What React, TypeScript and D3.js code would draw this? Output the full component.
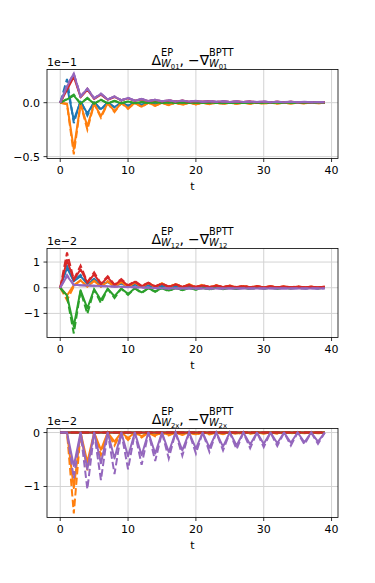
import React, { useEffect, useRef } from "react";
import * as d3 from "d3";

// time steps t = 0..39
const steps = d3.range(40);

const colors = ["#1f77b4", "#ff7f0e", "#2ca02c", "#d62728", "#9467bd"];

// panel 1 : W01, values in units of 1e-1
const blueEP1 = [0, 0.15, -0.16, 0.01, -0.1, 0.005, -0.06, 0.003, -0.04, 0.002, -0.027, 0.001, -0.019, 0.001, -0.014, 0, -0.011, 0, -0.009, 0, -0.007, 0, -0.006, 0, -0.005, 0, -0.004, 0, -0.004, 0, -0.003, 0, -0.003, 0, -0.003, 0, -0.002, 0, -0.002, 0];
const blueBP1 = [0, 0.22, -0.19, 0.02, -0.12, 0.008, -0.07, 0.004, -0.045, 0.002, -0.03, 0.001, -0.021, 0.001, -0.015, 0, -0.012, 0, -0.009, 0, -0.008, 0, -0.006, 0, -0.005, 0, -0.005, 0, -0.004, 0, -0.004, 0, -0.003, 0, -0.003, 0, -0.003, 0, -0.002, 0];
const orangeEP1 = [0, -0.01, -0.43, -0.01, -0.22, -0.008, -0.125, -0.005, -0.078, -0.003, -0.052, -0.002, -0.037, -0.001, -0.028, -0.001, -0.022, 0, -0.018, 0, -0.015, 0, -0.013, 0, -0.011, 0, -0.01, 0, -0.009, 0, -0.008, 0, -0.007, 0, -0.007, 0, -0.006, 0, -0.006, 0];
const orangeBP1 = [0, -0.015, -0.48, -0.015, -0.25, -0.01, -0.14, -0.006, -0.088, -0.004, -0.058, -0.002, -0.041, -0.001, -0.031, -0.001, -0.024, 0, -0.02, 0, -0.016, 0, -0.014, 0, -0.012, 0, -0.011, 0, -0.01, 0, -0.009, 0, -0.008, 0, -0.007, 0, -0.007, 0, -0.006, 0];
const greenEP1 = [0, 0.03, 0.065, -0.008, 0.04, -0.008, 0.025, -0.006, 0.016, -0.005, 0.01, -0.004, 0.007, -0.004, 0.005, -0.003, 0.003, -0.003, 0.002, -0.003, 0.001, -0.002, 0.001, -0.002, 0, -0.002, 0, -0.002, 0, -0.002, 0, -0.001, 0, -0.001, 0, -0.001, 0, -0.001, 0, -0.001];
const greenBP1 = [0, 0.035, 0.075, -0.01, 0.045, -0.01, 0.028, -0.007, 0.018, -0.006, 0.012, -0.005, 0.008, -0.004, 0.006, -0.003, 0.004, -0.003, 0.003, -0.003, 0.002, -0.002, 0.001, -0.002, 0.001, -0.002, 0, -0.002, 0, -0.002, 0, -0.001, 0, -0.001, 0, -0.001, 0, -0.001, 0, -0.001];
const redEP1 = [0, 0.12, 0.24, 0.05, 0.12, 0.035, 0.075, 0.027, 0.053, 0.021, 0.04, 0.017, 0.031, 0.014, 0.025, 0.012, 0.021, 0.01, 0.018, 0.009, 0.015, 0.008, 0.013, 0.007, 0.012, 0.006, 0.011, 0.006, 0.01, 0.005, 0.009, 0.005, 0.008, 0.004, 0.008, 0.004, 0.007, 0.004, 0.007, 0.004];
const redBP1 = [0, 0.13, 0.26, 0.055, 0.13, 0.038, 0.08, 0.029, 0.056, 0.022, 0.042, 0.018, 0.032, 0.015, 0.026, 0.012, 0.022, 0.01, 0.019, 0.009, 0.016, 0.008, 0.014, 0.007, 0.012, 0.006, 0.011, 0.006, 0.01, 0.005, 0.009, 0.005, 0.009, 0.004, 0.008, 0.004, 0.007, 0.004, 0.007, 0.004];
const purpleEP1 = [0, 0.15, 0.27, 0.055, 0.13, 0.04, 0.082, 0.03, 0.057, 0.023, 0.043, 0.018, 0.034, 0.015, 0.027, 0.013, 0.022, 0.011, 0.019, 0.01, 0.016, 0.009, 0.014, 0.008, 0.013, 0.007, 0.012, 0.006, 0.011, 0.006, 0.01, 0.005, 0.009, 0.005, 0.008, 0.005, 0.008, 0.004, 0.007, 0.004];
const purpleBP1 = [0, 0.16, 0.27, 0.06, 0.13, 0.042, 0.084, 0.031, 0.058, 0.024, 0.044, 0.019, 0.035, 0.015, 0.028, 0.013, 0.023, 0.011, 0.019, 0.01, 0.017, 0.009, 0.015, 0.008, 0.013, 0.007, 0.012, 0.006, 0.011, 0.006, 0.01, 0.005, 0.009, 0.005, 0.009, 0.005, 0.008, 0.004, 0.007, 0.004];

// panel 2 : W12, values in units of 1e-2
const blueEP2 = [0, 0.78, 0.25, 0.45, 0.15, 0.32, 0.1, 0.22, 0.07, 0.16, 0.05, 0.12, 0.04, 0.09, 0.03, 0.07, 0.03, 0.06, 0.02, 0.05, 0.02, 0.04, 0.02, 0.035, 0.015, 0.03, 0.015, 0.03, 0.01, 0.025, 0.01, 0.025, 0.01, 0.02, 0.01, 0.02, 0.01, 0.02, 0.01, 0.015];
const blueBP2 = [0, 0.85, 0.28, 0.5, 0.17, 0.35, 0.11, 0.25, 0.08, 0.18, 0.06, 0.13, 0.045, 0.1, 0.035, 0.08, 0.03, 0.065, 0.025, 0.055, 0.02, 0.045, 0.02, 0.04, 0.015, 0.035, 0.015, 0.03, 0.01, 0.03, 0.01, 0.025, 0.01, 0.025, 0.01, 0.02, 0.01, 0.02, 0.01, 0.02];
const orangeEP2 = [0, -0.3, 0.1, 0.28, 0.05, 0.26, 0.04, 0.24, 0.04, 0.22, 0.03, 0.2, 0.03, 0.18, 0.03, 0.16, 0.02, 0.14, 0.02, 0.12, 0.02, 0.1, 0.02, 0.09, 0.02, 0.08, 0.01, 0.07, 0.01, 0.06, 0.01, 0.05, 0.01, 0.045, 0.01, 0.04, 0.01, 0.035, 0.01, 0.03];
const orangeBP2 = [0, -0.48, 0.05, 0.3, 0.04, 0.28, 0.04, 0.26, 0.03, 0.24, 0.03, 0.22, 0.03, 0.2, 0.02, 0.18, 0.02, 0.16, 0.02, 0.14, 0.02, 0.12, 0.02, 0.1, 0.01, 0.09, 0.01, 0.08, 0.01, 0.07, 0.01, 0.06, 0.01, 0.05, 0.01, 0.045, 0.01, 0.04, 0.01, 0.035];
const greenEP2 = [0, -0.3, -1.5, -0.1, -0.8, -0.06, -0.48, -0.04, -0.33, -0.03, -0.24, -0.02, -0.18, -0.02, -0.14, -0.01, -0.11, -0.01, -0.09, -0.01, -0.07, 0, -0.06, 0, -0.05, 0, -0.045, 0, -0.04, 0, -0.035, 0, -0.03, 0, -0.03, 0, -0.025, 0, -0.025, 0];
const greenBP2 = [0, -0.35, -1.78, -0.12, -1.02, -0.07, -0.6, -0.05, -0.4, -0.04, -0.28, -0.03, -0.21, -0.02, -0.16, -0.02, -0.13, -0.01, -0.1, -0.01, -0.08, -0.01, -0.07, 0, -0.06, 0, -0.05, 0, -0.045, 0, -0.04, 0, -0.035, 0, -0.03, 0, -0.03, 0, -0.025, 0];
const redEP2 = [0, 1.08, 0.3, 0.72, 0.2, 0.52, 0.14, 0.4, 0.1, 0.3, 0.08, 0.23, 0.06, 0.18, 0.05, 0.15, 0.04, 0.12, 0.04, 0.1, 0.03, 0.09, 0.03, 0.08, 0.03, 0.07, 0.02, 0.06, 0.02, 0.055, 0.02, 0.05, 0.02, 0.045, 0.02, 0.04, 0.015, 0.04, 0.015, 0.035];
const redBP2 = [0, 1.37, 0.32, 0.86, 0.22, 0.6, 0.16, 0.45, 0.12, 0.34, 0.09, 0.26, 0.07, 0.2, 0.06, 0.16, 0.05, 0.13, 0.04, 0.11, 0.035, 0.1, 0.03, 0.09, 0.03, 0.08, 0.025, 0.07, 0.02, 0.06, 0.02, 0.055, 0.02, 0.05, 0.02, 0.045, 0.015, 0.04, 0.015, 0.04];
const purpleEP2 = [0, 0.45, 0.12, 0.1, 0.09, 0.08, 0.07, 0.06, 0.05, 0.04, 0.03, 0.02, 0.01, 0, -0.01, -0.02, -0.02, -0.03, -0.02, -0.03, -0.02, -0.03, -0.02, -0.03, -0.02, -0.03, -0.02, -0.03, -0.02, -0.03, -0.02, -0.03, -0.02, -0.03, -0.02, -0.03, -0.02, -0.03, -0.02, -0.03];
const purpleBP2 = [0, 0.5, 0.1, 0.1, 0.08, 0.08, 0.06, 0.06, 0.04, 0.04, 0.02, 0.02, 0, 0, -0.02, -0.02, -0.04, -0.02, -0.04, -0.02, -0.04, -0.02, -0.04, -0.02, -0.04, -0.02, -0.04, -0.02, -0.04, -0.02, -0.04, -0.02, -0.04, -0.02, -0.04, -0.02, -0.04, -0.02, -0.04, -0.02];

// panel 3 : W2x, values in units of 1e-2
const blueEP3 = [0, 0, 0, 0, 0, 0, 0, 0, 0, 0, 0, 0, 0, 0, 0, 0, 0, 0, 0, 0, 0, 0, 0, 0, 0, 0, 0, 0, 0, 0, 0, 0, 0, 0, 0, 0, 0, 0, 0, 0];
const blueBP3 = [0, 0, 0, 0, 0, 0, 0, 0, 0, 0, 0, 0, 0, 0, 0, 0, 0, 0, 0, 0, 0, 0, 0, 0, 0, 0, 0, 0, 0, 0, 0, 0, 0, 0, 0, 0, 0, 0, 0, 0];
const orangeEP3 = [0, 0, -1.03, 0, -0.55, 0, -0.32, 0, -0.17, 0, -0.1, 0, -0.065, 0, -0.05, 0, -0.04, 0, -0.035, 0, -0.03, 0, -0.025, 0, -0.02, 0, -0.02, 0, -0.015, 0, -0.015, 0, -0.015, 0, -0.01, 0, -0.01, 0, -0.01, 0];
const orangeBP3 = [0, 0, -1.5, 0, -0.7, 0, -0.42, 0, -0.24, 0, -0.14, 0, -0.09, 0, -0.07, 0, -0.055, 0, -0.045, 0, -0.04, 0, -0.035, 0, -0.03, 0, -0.025, 0, -0.02, 0, -0.02, 0, -0.02, 0, -0.015, 0, -0.015, 0, -0.015, 0];
const greenEP3 = [0, 0, 0, 0, 0, 0, 0, 0, 0, 0, 0, 0, 0, 0, 0, 0, 0, 0, 0, 0, 0, 0, 0, 0, 0, 0, 0, 0, 0, 0, 0, 0, 0, 0, 0, 0, 0, 0, 0, 0];
const greenBP3 = [0, 0, 0, 0, 0, 0, 0, 0, 0, 0, 0, 0, 0, 0, 0, 0, 0, 0, 0, 0, 0, 0, 0, 0, 0, 0, 0, 0, 0, 0, 0, 0, 0, 0, 0, 0, 0, 0, 0, 0];
const redEP3 = [0, 0, 0, 0, 0, 0, 0, 0, 0, 0, 0, 0, 0, 0, 0, 0, 0, 0, 0, 0, 0, 0, 0, 0, 0, 0, 0, 0, 0, 0, 0, 0, 0, 0, 0, 0, 0, 0, 0, 0];
const redBP3 = [0, 0, 0, 0, 0, 0, 0, 0, 0, 0, 0, 0, 0, 0, 0, 0, 0, 0, 0, 0, 0, 0, 0, 0, 0, 0, 0, 0, 0, 0, 0, 0, 0, 0, 0, 0, 0, 0, 0, 0];
const purpleEP3 = [0, 0, -0.62, 0, -0.68, 0, -0.57, 0, -0.48, 0, -0.44, 0, -0.42, 0, -0.39, 0, -0.36, 0, -0.33, 0, -0.3, 0, -0.28, 0, -0.26, 0, -0.24, 0, -0.22, 0, -0.21, 0, -0.2, 0, -0.19, 0, -0.18, 0, -0.17, 0];
const purpleBP3 = [0, 0, -0.85, 0, -1.05, 0, -0.88, 0, -0.77, 0, -0.68, 0, -0.6, 0, -0.53, 0, -0.48, 0, -0.43, 0, -0.39, 0, -0.36, 0, -0.33, 0, -0.31, 0, -0.29, 0, -0.27, 0, -0.25, 0, -0.24, 0, -0.22, 0, -0.21, 0];

const panels = [
  { sub: "01", offset: "1e\u22121", yTicks: [-0.5, 0], fmt: d3.format(".1f"),
    ep: [blueEP1, orangeEP1, greenEP1, redEP1, purpleEP1], bptt: [blueBP1, orangeBP1, greenBP1, redBP1, purpleBP1] },
  { sub: "12", offset: "1e\u22122", yTicks: [-1, 0, 1], fmt: d3.format("d"),
    ep: [blueEP2, orangeEP2, greenEP2, redEP2, purpleEP2], bptt: [blueBP2, orangeBP2, greenBP2, redBP2, purpleBP2] },
  { sub: "2x", offset: "1e\u22122", yTicks: [-1, 0], fmt: d3.format("d"),
    ep: [blueEP3, orangeEP3, greenEP3, redEP3, purpleEP3], bptt: [blueBP3, orangeBP3, greenBP3, redBP3, purpleBP3] },
];

const xTicks = [0, 10, 20, 30, 40];

const FONT = "DejaVu Sans, sans-serif";
const W = 375, H = 583;
const left = 47, plotW = 291, plotH = 89;
const tops = [69.5, 248.5, 428.5];

// mathtext-like title: Δ^EP_W01, −∇^BPTT_W01
function drawTitle(svg, cx, base, sub) {
  const fs = 14, ss = fs * 0.7, sss = ss * 0.7;
  const g = svg.append("g").attr("font-family", FONT).attr("fill", "#000");
  let x = 0;
  const put = (str, size, y, italic = false) => {
    const t = g.append("text").attr("x", x).attr("y", y).attr("font-size", size)
      .attr("font-style", italic ? "italic" : null).text(str);
    return (t.node() as SVGTextElement).getComputedTextLength();
  };
  const stack = (sup) => {
    const x0 = x;
    const w1 = put(sup, ss, base - 9);
    const wW = put("W", ss, base + 2, true);
    x = x0 + wW;
    const w2 = put(sub, sss, base + 4);
    x = x0 + Math.max(w1, wW + w2);
  };
  x += put("\u0394", fs, base);
  stack("EP");
  x += put(",", fs, base);
  x += 4;
  x += put("\u2212\u2207", fs, base);
  stack("BPTT");
  g.attr("transform", `translate(${cx - x / 2},0)`);
}

export default function App() {
  const ref = useRef(null);

  useEffect(() => {
    const svg = d3.select(ref.current);
    svg.selectAll("*").remove();

    const x = d3.scaleLinear().domain([-1.95, 40.95]).range([left, left + plotW]);

    panels.forEach((p, i) => {
      const top = tops[i];
      const all = [...p.ep.flat(), ...p.bptt.flat()];
      const [lo, hi] = d3.extent(all);
      const pad = (hi - lo) * 0.05;
      const y = d3.scaleLinear().domain([lo - pad, hi + pad]).range([top + plotH, top]);

      const g = svg.append("g");

      // grid
      g.selectAll(".gx").data(xTicks).join("line")
        .attr("x1", d => x(d)).attr("x2", d => x(d))
        .attr("y1", top).attr("y2", top + plotH)
        .attr("stroke", "#d3d3d3").attr("stroke-width", 1);
      g.selectAll(".gy").data(p.yTicks).join("line")
        .attr("x1", left).attr("x2", left + plotW)
        .attr("y1", d => y(d)).attr("y2", d => y(d))
        .attr("stroke", "#d3d3d3").attr("stroke-width", 1);

      const line = d3.line<number>().x((d, k) => x(steps[k])).y(d => y(d));

      p.ep.forEach((s, k) => {
        g.append("path").attr("d", line(s)).attr("fill", "none")
          .attr("stroke", colors[k]).attr("stroke-width", 2).attr("stroke-linejoin", "round");
        g.append("path").attr("d", line(p.bptt[k])).attr("fill", "none")
          .attr("stroke", colors[k]).attr("stroke-width", 2).attr("stroke-dasharray", "7.4,3.2");
      });

      // frame
      g.append("rect").attr("x", left).attr("y", top).attr("width", plotW).attr("height", plotH)
        .attr("fill", "none").attr("stroke", "#000").attr("stroke-width", 0.8);

      // ticks
      g.selectAll(".tx").data(xTicks).join("line")
        .attr("x1", d => x(d)).attr("x2", d => x(d))
        .attr("y1", top + plotH).attr("y2", top + plotH + 3.5)
        .attr("stroke", "#000").attr("stroke-width", 0.8);
      g.selectAll(".lx").data(xTicks).join("text")
        .attr("x", d => x(d)).attr("y", top + plotH + 15.5)
        .attr("text-anchor", "middle").attr("font-family", FONT).attr("font-size", 11)
        .text(d => d);
      g.selectAll(".ty").data(p.yTicks).join("line")
        .attr("x1", left - 3.5).attr("x2", left)
        .attr("y1", d => y(d)).attr("y2", d => y(d))
        .attr("stroke", "#000").attr("stroke-width", 0.8);
      g.selectAll(".ly").data(p.yTicks).join("text")
        .attr("x", left - 7).attr("y", d => y(d)).attr("dy", "0.36em")
        .attr("text-anchor", "end").attr("font-family", FONT).attr("font-size", 11)
        .text(d => p.fmt(d));

      // offset text, axis label
      g.append("text").attr("x", left).attr("y", top - 4)
        .attr("font-family", FONT).attr("font-size", 11).text(p.offset);
      g.append("text").attr("x", left + plotW / 2).attr("y", top + plotH + 31)
        .attr("text-anchor", "middle").attr("font-family", FONT).attr("font-size", 11).text("t");

      drawTitle(svg, left + plotW / 2, top - 5, p.sub);
    });
  }, []);

  return (
    <svg ref={ref} width={W} height={H} style={{ position: "absolute", left: 0, top: 0, background: "#fff" }} />
  );
}
